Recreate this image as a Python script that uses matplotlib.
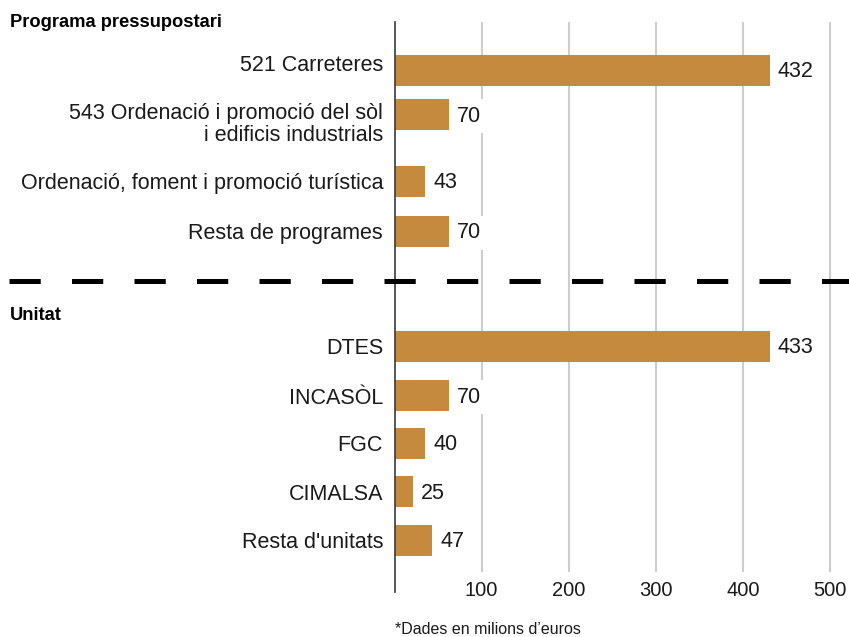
import matplotlib
matplotlib.use("Agg")
import matplotlib.pyplot as plt
from matplotlib.transforms import ScaledTranslation, blended_transform_factory

plt.rcParams['font.family'] = ['Liberation Sans', 'DejaVu Sans']

# ---- data ----
group1_title = "Programa pressupostari"
group1_cats = ["521 Carreteres",
               "543 Ordenació i promoció del sòl\ni edificis industrials",
               "Ordenació, foment i promoció turística",
               "Resta de programes"]
group1_bars = [431, 62.5, 35, 62.5]
group1_labels = ["432", "70", "43", "70"]

group2_title = "Unitat"
group2_cats = ["DTES", "INCASÒL", "FGC", "CIMALSA", "Resta d'unitats"]
group2_bars = [431, 62.5, 35, 21, 43]
group2_labels = ["433", "70", "40", "25", "47"]

x_ticks = [100, 200, 300, 400, 500]
x_tick_labels = ["100", "200", "300", "400", "500"]
footnote = "*Dades en milions d\u2019euros"

# ---- layout ----
W, H, DPI = 849, 637, 100
BAR_COLOR = "#C68A3E"
rows1 = [-5.691, -4.779, -3.402, -2.371]
rows2 = [0, 1.02, 2, 3, 4]
sep_row = -1.353
bar_h = 0.633

fig = plt.figure(figsize=(W / DPI, H / DPI), dpi=DPI)
ax_left, ax_right = 394.6, 849.0
ax_top, ax_bot = 22.3, 592.0
ax = fig.add_axes([ax_left / W, 1 - ax_bot / H, (ax_right - ax_left) / W, (ax_bot - ax_top) / H])
ax.set_xlim(0, (ax_right - ax_left) / 0.8708)
ax.set_ylim((ax_bot - 346.3) / 48.5, (ax_top - 346.3) / 48.5)

for s in ["top", "right", "bottom"]:
    ax.spines[s].set_visible(False)
ax.spines["left"].set_color("#3a3a3a")
ax.spines["left"].set_linewidth(1.2)
ax.spines["left"].set_zorder(4)

grid_bottom_frac = (ax_bot - 571.0) / (ax_bot - ax_top)
for t in x_ticks:
    ax.axvline(t, ymin=grid_bottom_frac, ymax=1, color="#CDCDCD", lw=1.5, zorder=0)

ax.barh(rows1, group1_bars, height=bar_h, color=BAR_COLOR, zorder=2)
ax.barh(rows2, group2_bars, height=bar_h, color=BAR_COLOR, zorder=2)

for rows, vals, labs in [(rows1, group1_bars, group1_labels), (rows2, group2_bars, group2_labels)]:
    for y, v, l in zip(rows, vals, labs):
        ax.annotate(l, xy=(v, y), xytext=(5.8, -1.2), textcoords="offset points",
                    ha="left", va="center", fontsize=15.5, color="#1a1a1a", zorder=3,
                    bbox=dict(boxstyle="square,pad=0.3", fc="white", ec="none"))

ax.set_yticks(rows1 + rows2)
ax.set_yticklabels(group1_cats + group2_cats, fontsize=15.5, color="#1a1a1a", linespacing=1.08)
ax.tick_params(axis="y", length=0, pad=8.3)
tl = ax.get_yticklabels()
tl[0].set_transform(tl[0].get_transform() + ScaledTranslation(0, 7 / DPI, fig.dpi_scale_trans))
tl[1].set_transform(tl[1].get_transform() + ScaledTranslation(0, -6.5 / DPI, fig.dpi_scale_trans))

ax.set_xticks(x_ticks)
ax.set_xticklabels(x_tick_labels, fontsize=14.5, color="#1a1a1a")
ax.tick_params(axis="x", length=0, pad=-7.6)

# dashed separator
trans = blended_transform_factory(ax.transAxes, ax.transData)
x0 = (9 - ax_left) / (ax_right - ax_left)
ax.plot([x0, 1.0], [sep_row, sep_row], transform=trans, clip_on=False,
        color="black", lw=3.6, linestyle=(0, (6.25, 6.25)), dash_capstyle="butt", zorder=5)

fig.text(10 / W, 1 - 27.3 / H, group1_title, fontsize=13.2, fontweight="bold", va="baseline", ha="left")
fig.text(10 / W, 1 - 320.3 / H, group2_title, fontsize=13.2, fontweight="bold", va="baseline", ha="left")
fig.text(395 / W, 1 - 634 / H, footnote, fontsize=11.5, va="baseline", ha="left", color="#1a1a1a")

fig.savefig("out.png", dpi=DPI)
